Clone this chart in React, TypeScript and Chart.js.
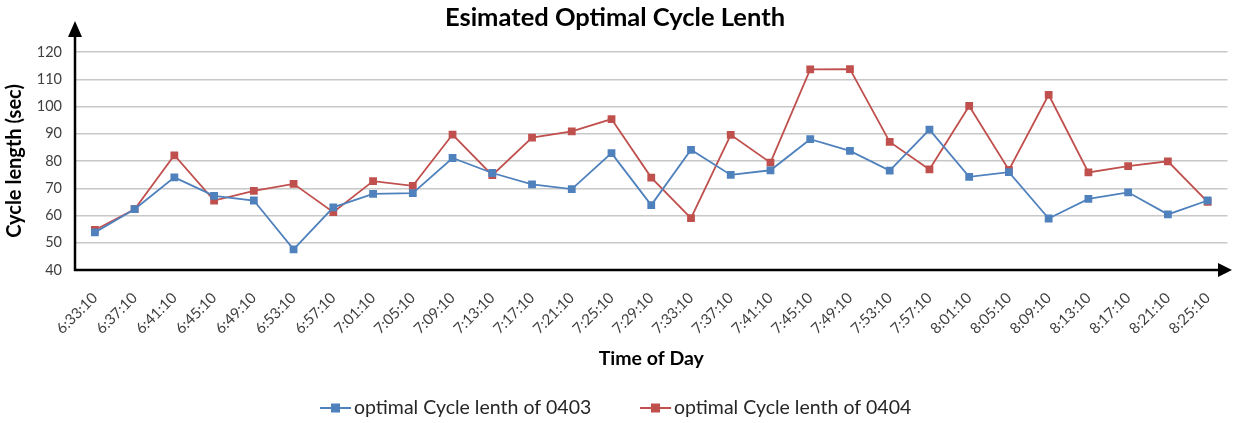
import React, { useEffect, useRef } from "react";
import { Chart, registerables } from "chart.js";

Chart.register(...registerables);

const TITLE = "Esimated Optimal Cycle Lenth";
const Y_TITLE = "Cycle length (sec)";
const X_TITLE = "Time of Day";

const timeLabels = [
  "6:33:10", "6:37:10", "6:41:10", "6:45:10", "6:49:10", "6:53:10", "6:57:10",
  "7:01:10", "7:05:10", "7:09:10", "7:13:10", "7:17:10", "7:21:10", "7:25:10",
  "7:29:10", "7:33:10", "7:37:10", "7:41:10", "7:45:10", "7:49:10", "7:53:10",
  "7:57:10", "8:01:10", "8:05:10", "8:09:10", "8:13:10", "8:17:10", "8:21:10",
  "8:25:10",
];

const series0403Name = "optimal Cycle lenth of 0403";
const series0403 = [
  53.8, 62.3, 74.0, 67.2, 65.5, 47.6, 63.0, 67.9, 68.2, 81.1, 75.6, 71.4, 69.7,
  82.9, 63.8, 84.1, 74.9, 76.6, 88.0, 83.7, 76.5, 91.5, 74.2, 75.9, 58.9, 66.1,
  68.5, 60.4, 65.5,
];

const series0404Name = "optimal Cycle lenth of 0404";
const series0404 = [
  54.7, 62.3, 82.1, 65.5, 69.0, 71.6, 61.2, 72.6, 70.9, 89.7, 74.8, 88.6, 90.9,
  95.4, 73.9, 59.0, 89.6, 79.4, 113.6, 113.7, 87.0, 76.9, 100.2, 76.7, 104.3,
  75.8, 78.1, 79.9, 65.0,
];

const yMin = 40;
const yMax = 120;
const yStep = 10;

const BLUE = "#4F81BD";
const RED = "#C0504D";
const FONT = "Lato, 'Open Sans', sans-serif";

const arrowAxesPlugin = {
  id: "arrowAxes",
  afterDraw(chart: any) {
    const { ctx, chartArea } = chart;
    const { left, bottom } = chartArea;
    ctx.save();
    ctx.strokeStyle = "#000";
    ctx.fillStyle = "#000";
    ctx.lineWidth = 2.5;
    // y axis
    ctx.beginPath();
    ctx.moveTo(left, bottom + 1);
    ctx.lineTo(left, 34);
    ctx.stroke();
    ctx.beginPath();
    ctx.moveTo(left, 21);
    ctx.lineTo(left - 7, 37);
    ctx.lineTo(left + 7, 37);
    ctx.closePath();
    ctx.fill();
    // x axis
    const w = chart.width;
    ctx.beginPath();
    ctx.moveTo(left - 1, bottom);
    ctx.lineTo(w - 12, bottom);
    ctx.stroke();
    ctx.beginPath();
    ctx.moveTo(w - 1, bottom);
    ctx.lineTo(w - 15, bottom - 7);
    ctx.lineTo(w - 15, bottom + 7);
    ctx.closePath();
    ctx.fill();
    ctx.restore();
  },
};

const customLegendPlugin = {
  id: "customLegend",
  afterDraw(chart: any) {
    const { ctx } = chart;
    const y = 408;
    const items = chart.data.datasets.map((d: any) => ({
      text: d.label,
      color: d.borderColor,
    }));
    const starts = [320, 640];
    ctx.save();
    ctx.font = `19.5px ${FONT}`;
    ctx.textBaseline = "middle";
    ctx.textAlign = "left";
    items.forEach((it: any, i: number) => {
      const x = starts[i];
      ctx.strokeStyle = it.color;
      ctx.lineWidth = 2;
      ctx.beginPath();
      ctx.moveTo(x, y);
      ctx.lineTo(x + 31, y);
      ctx.stroke();
      ctx.fillStyle = it.color;
      ctx.fillRect(x + 11, y - 4.5, 9, 9);
      ctx.fillStyle = "#262626";
      ctx.fillText(it.text, x + 34, y);
    });
    ctx.restore();
  },
};

export default function App() {
  const ref = useRef<HTMLCanvasElement | null>(null);

  useEffect(() => {
    document.body.style.margin = "0";
    const canvas = ref.current;
    if (!canvas) return;
    const chart = new Chart(canvas, {
      type: "line",
      data: {
        labels: timeLabels,
        datasets: [
          {
            label: series0403Name,
            data: series0403,
            borderColor: BLUE,
            backgroundColor: BLUE,
            borderWidth: 1.8,
            pointStyle: "rect",
            pointRadius: 5.5,
            pointBorderWidth: 0,
            pointBackgroundColor: BLUE,
            tension: 0,
          },
          {
            label: series0404Name,
            data: series0404,
            borderColor: RED,
            backgroundColor: RED,
            borderWidth: 1.8,
            pointStyle: "rect",
            pointRadius: 5.5,
            pointBorderWidth: 0,
            pointBackgroundColor: RED,
            tension: 0,
          },
        ],
      },
      options: {
        responsive: false,
        maintainAspectRatio: false,
        animation: false,
        layout: { padding: { left: 0, right: 3, top: 0, bottom: 53 } },
        plugins: {
          legend: { display: false },
          tooltip: { enabled: false },
          title: {
            display: true,
            text: TITLE,
            color: "#000",
            font: { family: FONT, size: 25.5, weight: "bold" },
            padding: { top: 2, bottom: 19.4 },
          },
        },
        scales: {
          x: {
            offset: true,
            grid: { display: false, drawTicks: false },
            border: { display: false },
            ticks: {
              autoSkip: false,
              minRotation: 45,
              maxRotation: 45,
              padding: 19,
              color: "#404040",
              font: { family: FONT, size: 15 },
            },
            title: {
              display: true,
              text: X_TITLE,
              color: "#000",
              font: { family: FONT, size: 19.5, weight: "bold" },
              padding: { top: 0, bottom: 0 },
            },
            afterFit(scale: any) {
              scale.height = 100;
              scale.paddingLeft = 0;
              scale.paddingRight = 0;
            },
          },
          y: {
            min: yMin,
            max: yMax,
            grid: { color: "#c8c8c8", lineWidth: 1.5, drawTicks: false },
            border: { display: false },
            ticks: {
              stepSize: yStep,
              padding: 13,
              color: "#404040",
              font: { family: FONT, size: 14.5 },
            },
            title: {
              display: true,
              text: Y_TITLE,
              color: "#000",
              font: { family: FONT, size: 20, weight: "bold" },
              padding: { top: 3, bottom: 0 },
            },
            afterFit(scale: any) {
              scale.width = 75;
            },
          },
        },
      },
      plugins: [arrowAxesPlugin, customLegendPlugin],
    });
    return () => chart.destroy();
  }, []);

  return (
    <div style={{ position: "absolute", left: 0, top: 0, width: 1233, height: 423, background: "#fff" }}>
      <canvas ref={ref} width={1233} height={423} />
    </div>
  );
}
